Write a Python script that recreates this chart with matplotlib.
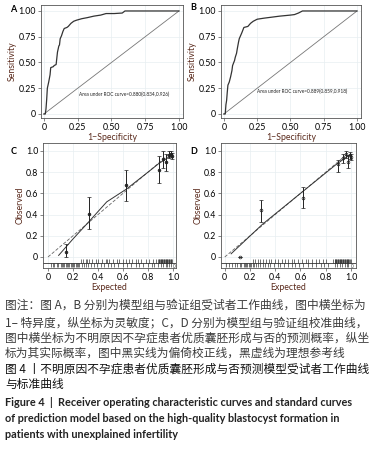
import matplotlib
matplotlib.use('Agg')
import matplotlib.pyplot as plt

plt.rcParams['font.family'] = ['Lato', 'DejaVu Sans']

# ROC data, panel A (model group) and B (validation group)
A_fpr = [0, 0.01, 0.015, 0.02, 0.025, 0.03, 0.035, 0.045, 0.05, 0.07, 0.075, 0.09, 0.095, 0.10, 0.11, 0.115,
         0.12, 0.13, 0.14, 0.15, 0.17, 0.18, 0.20, 0.22, 0.24, 0.28, 0.32, 0.37, 0.42, 0.46, 0.52, 0.58, 0.60, 1.0]
A_tpr = [0, 0, 0.05, 0.14, 0.25, 0.28, 0.31, 0.38, 0.45, 0.46, 0.47, 0.48, 0.54, 0.60, 0.66, 0.67,
         0.73, 0.76, 0.80, 0.83, 0.84, 0.85, 0.88, 0.90, 0.91, 0.925, 0.935, 0.95, 0.96, 0.975, 0.975, 0.98, 1.0, 1.0]
B_fpr = [0, 0.01, 0.015, 0.02, 0.025, 0.03, 0.04, 0.05, 0.06, 0.065, 0.08, 0.085, 0.095, 0.10, 0.11, 0.115,
         0.125, 0.135, 0.15, 0.18, 0.20, 0.22, 0.25, 0.30, 0.36, 0.42, 0.50, 0.53, 0.56, 0.59, 1.0]
B_tpr = [0, 0, 0.09, 0.13, 0.21, 0.28, 0.31, 0.36, 0.42, 0.47, 0.52, 0.55, 0.59, 0.63, 0.70, 0.73,
         0.76, 0.79, 0.84, 0.85, 0.88, 0.90, 0.92, 0.93, 0.94, 0.95, 0.96, 0.965, 0.98, 1.0, 1.0]
A_auc = 'Area under ROC curve=0.880(0.834,0.926)'
B_auc = 'Area under ROC curve=0.889(0.859,0.918)'

# calibration data, panel C and D
C_exp = [0.14, 0.325, 0.627, 0.885, 0.92, 0.945, 0.965, 0.98, 0.99]
C_obs = [0.05, 0.41, 0.68, 0.82, 0.92, 0.90, 0.96, 0.97, 0.95]
C_lo = [0.0, 0.26, 0.53, 0.70, 0.84, 0.81, 0.93, 0.94, 0.92]
C_hi = [0.125, 0.57, 0.82, 0.95, 1.0, 0.97, 1.0, 1.0, 0.98]
C_fit_x = [0.085, 0.20, 0.325, 0.47, 0.627, 0.80, 0.885, 0.95, 0.99]
C_fit_y = [0.015, 0.17, 0.33, 0.52, 0.64, 0.80, 0.88, 0.93, 0.96]
C_rug1 = [0.26, 0.28, 0.30, 0.31, 0.33, 0.35, 0.38, 0.40, 0.43, 0.46, 0.47, 0.49, 0.52, 0.55, 0.57, 0.60,
          0.62, 0.65, 0.67, 0.70, 0.72, 0.74, 0.78, 0.81, 0.84, 0.86, 0.88, 0.885, 0.89, 0.895, 0.90, 0.905,
          0.91, 0.915, 0.92, 0.925, 0.93, 0.935, 0.94, 0.945, 0.95, 0.955, 0.96, 0.965, 0.97, 0.975, 0.98,
          0.985, 0.99]
C_rug0 = [0.02, 0.04, 0.05, 0.07, 0.08, 0.10, 0.11, 0.12, 0.13, 0.14, 0.15, 0.16, 0.17, 0.18, 0.19, 0.20,
          0.21, 0.22, 0.23, 0.24, 0.25, 0.27, 0.29, 0.30, 0.32, 0.34, 0.37, 0.39, 0.42, 0.45, 0.48, 0.50,
          0.53, 0.56, 0.60, 0.63, 0.66, 0.70, 0.73, 0.76, 0.80, 0.83, 0.85, 0.88, 0.90, 0.92, 0.94, 0.95,
          0.97, 0.98]

D_exp = [0.12, 0.29, 0.616, 0.90, 0.935, 0.96, 0.975, 0.99, 1.0]
D_obs = [0.0, 0.44, 0.56, 0.875, 0.93, 0.97, 0.90, 0.96, 0.94]
D_lo = [0.0, 0.33, 0.46, 0.80, 0.89, 0.93, 0.84, 0.92, 0.91]
D_hi = [0.0, 0.54, 0.66, 0.91, 0.97, 1.0, 0.96, 0.99, 0.97]
D_fit_x = [0.05, 0.30, 0.60, 0.88, 0.95, 0.99]
D_fit_y = [0.03, 0.31, 0.60, 0.87, 0.93, 0.96]
D_rug1 = [0.22, 0.24, 0.26, 0.28, 0.30, 0.33, 0.35, 0.37, 0.40, 0.42, 0.45, 0.48, 0.50, 0.53, 0.55, 0.58,
          0.61, 0.64, 0.66, 0.69, 0.72, 0.75, 0.78, 0.80, 0.86, 0.87, 0.875, 0.88, 0.885, 0.89, 0.895,
          0.90, 0.905, 0.91, 0.915, 0.92, 0.925, 0.93, 0.935, 0.94, 0.945, 0.95, 0.955, 0.96, 0.965, 0.97,
          0.975, 0.98, 0.985, 0.99, 1.0]
D_rug0 = [0.01, 0.03, 0.06, 0.08, 0.10, 0.12, 0.13, 0.15, 0.16, 0.17, 0.18, 0.19, 0.20, 0.21, 0.22, 0.23,
          0.25, 0.26, 0.28, 0.30, 0.32, 0.34, 0.36, 0.39, 0.42, 0.44, 0.47, 0.50, 0.53, 0.56, 0.59, 0.62,
          0.66, 0.69, 0.72, 0.76, 0.79, 0.82, 0.87, 0.89, 0.91, 0.93, 0.95, 0.97, 0.98]

caption_cn = ['图注：图 A，B 分别为模型组与验证组受试者工作曲线，图中横坐标为',
              '1– 特异度，纵坐标为灵敏度；C，D 分别为模型组与验证组校准曲线，',
              '图中横坐标为不明原因不孕症患者优质囊胚形成与否的预测概率，纵坐',
              '标为其实际概率，图中黑实线为偏倚校正线，黑虚线为理想参考线']
title_cn = ['图 4 丨不明原因不孕症患者优质囊胚形成与否预测模型受试者工作曲线',
            '与标准曲线']
title_en = ['Figure 4  |  Receiver operating characteristic curves and standard curves',
            'of prediction model based on the high-quality blastocyst formation in',
            'patients with unexplained infertility']

W, H = 378, 451
label_col = '#5a2a1c'
fig = plt.figure(figsize=(W / 100, H / 100), dpi=100)


def px_axes(l, t, r, b):
    return fig.add_axes([l / W, 1 - b / H, (r - l) / W, (b - t) / H])


def style(ax):
    for s in ax.spines.values():
        s.set_color('#555555')
        s.set_linewidth(0.6)
    ax.tick_params(labelsize=6.3, length=2, width=0.5, color='#555555', pad=1.5)
    ax.grid(True, color='#e8eef2', lw=0.5)
    ax.set_axisbelow(True)


def roc_panel(rect, fpr, tpr, auc_txt, letter, lx, ly, txt_x, txt_y):
    ax = px_axes(*rect)
    style(ax)
    ax.plot([0, 1], [0, 1], color='#777777', lw=0.6)
    ax.plot(fpr, tpr, color='#333333', lw=0.9)
    ax.set_xlim(-0.022, 1.03)
    ax.set_ylim(-0.039, 1.058)
    ax.set_xticks([0, 0.25, 0.5, 0.75, 1.0])
    ax.set_xticklabels(['0', '0.25', '0.50', '0.75', '1.00'])
    ax.set_yticks([0, 0.25, 0.5, 0.75, 1.0])
    ax.set_yticklabels(['0', '0.25', '0.50', '0.75', '1.00'])
    ax.set_xlabel('1−Specificity', fontsize=6.3, color=label_col, labelpad=1)
    ax.set_ylabel('Sensitivity', fontsize=6.3, color=label_col, labelpad=1)
    ax.text(txt_x, txt_y, auc_txt, fontsize=3.4, color='#222222', transform=ax.transData)
    fig.text(lx / W, 1 - ly / H, letter, fontsize=6.5, fontweight='bold', ha='center', va='center')
    return ax


def cal_panel(rect, xlim, exp, obs, lo, hi, fx, fy, rug1, rug0, letter, lx, ly, marker, mfc):
    ax = px_axes(*rect)
    style(ax)
    ax.plot([0, 0.97], [0, 0.97], color='#666666', lw=0.6, ls=(0, (4, 2)))
    ax.plot(fx, fy, color='#333333', lw=0.7)
    yerr = [[o - l for o, l in zip(obs, lo)], [h - o for o, h in zip(obs, hi)]]
    ax.errorbar(exp, obs, yerr=yerr, fmt=marker, ms=2, mfc=mfc, mec='#222222', ecolor='#222222',
                elinewidth=0.7, capsize=1.5, capthick=0.6, mew=0.5)
    base = -0.057
    ax.axhline(base, color='#333333', lw=0.6)
    ax.vlines(rug1, base, base + 0.04, color='#222222', lw=0.45)
    ax.vlines(rug0, base - 0.037, base, color='#222222', lw=0.45)
    ax.text(1.0, base - 0.035, '0', fontsize=3.5, color='#444444', va='center')
    ax.set_xlim(*xlim)
    ax.set_ylim(-0.104, 1.075)
    ax.set_xticks([0, 0.2, 0.4, 0.6, 0.8, 1.0])
    ax.set_xticklabels(['0', '0.2', '0.4', '0.6', '0.8', '1.0'])
    ax.set_yticks([0, 0.2, 0.4, 0.6, 0.8, 1.0])
    ax.set_yticklabels(['0', '0.2', '0.4', '0.6', '0.8', '1.0'])
    ax.set_xlabel('Expected', fontsize=6.3, color=label_col, labelpad=1)
    ax.set_ylabel('Observed', fontsize=6.3, color=label_col, labelpad=1)
    fig.text(lx / W, 1 - ly / H, letter, fontsize=6.5, fontweight='bold', ha='center', va='center')
    return ax


roc_panel((41, 5, 183, 118), A_fpr, A_tpr, A_auc, 'A', 13, 9, 0.26, 0.17)
roc_panel((221, 5, 361, 118), B_fpr, B_tpr, B_auc, 'B', 193, 7, 0.25, 0.2)
cal_panel((43, 143, 176, 268), (-0.04, 1.024), C_exp, C_obs, C_lo, C_hi, C_fit_x, C_fit_y,
          C_rug1, C_rug0, 'C', 14, 152, 'o', '#222222')
cal_panel((221, 143, 356, 268), (-0.03, 1.04), D_exp, D_obs, D_lo, D_hi, D_fit_x, D_fit_y,
          D_rug1, D_rug0, 'D', 194, 152, 'o', 'none')

cjk = ['Noto Sans CJK SC', 'DejaVu Sans']
for i, line in enumerate(caption_cn):
    fig.text(5 / W, 1 - [305, 323, 338, 353][i] / H, line, fontsize=8.45, color='#3c3c3c',
             family=cjk, va='center')
for i, line in enumerate(title_cn):
    fig.text(5 / W, 1 - [369, 384][i] / H, line, fontsize=8.45, color='#111111',
             family=cjk, va='center')
for i, line in enumerate(title_en):
    fig.text(5 / W, 1 - [403, 418, 434][i] / H, line, fontsize=7.8, color='#222222',
             fontweight='bold', va='center')

fig.savefig('out.png', dpi=100)
